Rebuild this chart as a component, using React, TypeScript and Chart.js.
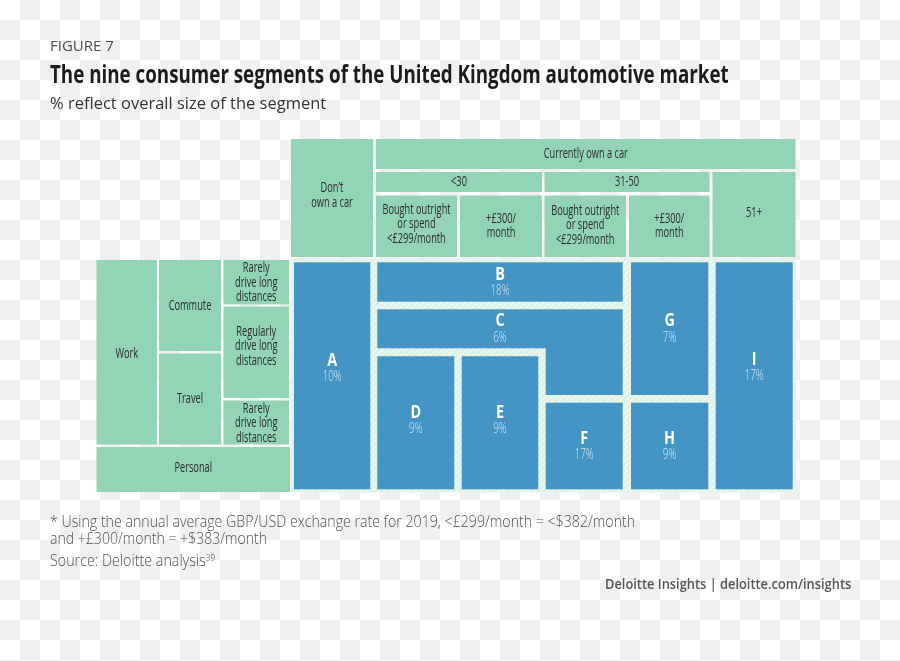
import React, { useEffect, useRef } from "react";
import { Chart, registerables } from "chart.js";

Chart.register(...registerables);

// ---------------- data ----------------
const ownershipLabels = ["Don\u2019t\nown a car", "Currently own a car"];
const ageBandLabels = ["<30", "31-50", "51+"];
const financeLabels = ["Bought outright\nor spend\n<£299/month", "+£300/\nmonth"];
const purposeLabels = ["Work", "Personal"];
const workTypeLabels = ["Commute", "Travel"];
const distanceLabels = [
  "Rarely\ndrive long\ndistances",
  "Regularly\ndrive long\ndistances",
  "Rarely\ndrive long\ndistances",
];
const segmentLetters = ["A", "B", "C", "D", "E", "F", "G", "H", "I"];
const segmentShares = [10, 18, 6, 9, 9, 17, 7, 9, 17];

const figureLabel = "FIGURE 7";
const titleText = "The nine consumer segments of the United Kingdom automotive market";
const subtitleText = "% reflect overall size of the segment";
const noteLines = [
  "* Using the annual average GBP/USD exchange rate for 2019, <£299/month = <$382/month",
  "and +£300/month = +$383/month",
];
const sourceText = "Source: Deloitte analysis";
const sourceRef = "39";
const brandText = "Deloitte Insights | deloitte.com/insights";

// ---------------- layout (axis units) ----------------
type R = [number, number, number, number];
const headerLayout: { label: string; r: R; dy?: number }[] = [
  { label: ownershipLabels[0], r: [291, 139, 373, 257], dy: -2.5 },
  { label: ownershipLabels[1], r: [376, 139, 795.5, 169] },
  { label: ageBandLabels[0], r: [376, 172, 542, 192], dy: 0.5 },
  { label: ageBandLabels[1], r: [544.5, 172, 709.5, 192], dy: 0.5 },
  { label: ageBandLabels[2], r: [712.5, 172, 795.5, 257], dy: -1.5 },
  { label: financeLabels[0], r: [376, 195.5, 457, 257], dy: -2 },
  { label: financeLabels[1], r: [460, 195.5, 542, 257], dy: -0.5 },
  { label: financeLabels[0], r: [544.5, 195.5, 626, 257], dy: -1 },
  { label: financeLabels[1], r: [629, 195.5, 709.5, 257], dy: -0.5 },
];
const sideLayout: { label: string; r: R; dy?: number }[] = [
  { label: purposeLabels[0], r: [96.5, 260, 157, 444.5], dy: 2 },
  { label: workTypeLabels[0], r: [159, 260, 221, 351], dy: 0.5 },
  { label: workTypeLabels[1], r: [159, 353.5, 221, 444.5] },
  { label: distanceLabels[0], r: [223.5, 260, 289, 304.5], dy: 0.5 },
  { label: distanceLabels[1], r: [223.5, 306.5, 289, 398], dy: -6 },
  { label: distanceLabels[2], r: [223.5, 400.5, 289, 444.5], dy: 1 },
  { label: purposeLabels[1], r: [96.5, 447, 290, 492], dy: -1 },
];
const segmentZone: R = [290.5, 258.5, 796, 492.5];
const segmentLayout: { rects: R[]; cx: number; cy: number }[] = [
  { rects: [[294, 262.3, 370.3, 489.3]], cx: 332.2, cy: 369 },
  { rects: [[377.3, 262.3, 622.7, 301.7]], cx: 500, cy: 282.7 },
  { rects: [[377.3, 309.3, 622.7, 348.3], [545.7, 348, 622.7, 395]], cx: 500, cy: 329.3 },
  { rects: [[377.3, 356.3, 454.3, 489.3]], cx: 415.8, cy: 420.7 },
  { rects: [[461.7, 356.3, 538.3, 489.3]], cx: 500, cy: 420.7 },
  { rects: [[545.7, 402.7, 622.7, 489.3]], cx: 584.2, cy: 447 },
  { rects: [[631, 262.3, 708.3, 395]], cx: 669.6, cy: 329.3 },
  { rects: [[631, 402.7, 708.3, 489.3]], cx: 669.6, cy: 447 },
  { rects: [[715.7, 262.3, 792.7, 489.3]], cx: 754.2, cy: 368 },
];

const GREEN = "#93d4b7";
const BLUE = "#4595c4";
const LABEL = "#2a2a2a";

function drawLines(
  ctx: CanvasRenderingContext2D,
  text: string,
  cx: number,
  cy: number,
  font: string,
  color: string,
  sx: number,
  lineH: number
) {
  const lines = text.split("\n");
  const start = cy - ((lines.length - 1) * lineH) / 2;
  lines.forEach((l, i) => {
    ctx.save();
    ctx.translate(cx, start + i * lineH);
    ctx.scale(sx, 1);
    ctx.font = font;
    ctx.fillStyle = color;
    ctx.textAlign = "center";
    ctx.textBaseline = "middle";
    ctx.fillText(l, 0, 0);
    ctx.restore();
  });
}

const mosaicPlugin = {
  id: "mosaic",
  beforeDatasetsDraw(chart: any) {
    const ctx: CanvasRenderingContext2D = chart.ctx;
    const xs = chart.scales.x;
    const ys = chart.scales.y;
    const px = (v: number) => xs.getPixelForValue(v);
    const py = (v: number) => ys.getPixelForValue(v);
    const fillR = (r: R, style: any) => {
      ctx.fillStyle = style;
      ctx.fillRect(px(r[0]), py(r[1]), px(r[2]) - px(r[0]), py(r[3]) - py(r[1]));
    };
    ctx.save();
    // green header & side cells
    [...headerLayout, ...sideLayout].forEach((c) => {
      fillR(c.r, GREEN);
      drawLines(
        ctx,
        c.label,
        (px(c.r[0]) + px(c.r[2])) / 2,
        (py(c.r[1]) + py(c.r[3])) / 2 + (c.dy || 0),
        "400 14px 'Open Sans'",
        LABEL,
        0.66,
        14.4
      );
    });
    // pale hatched zone
    const pc = document.createElement("canvas");
    pc.width = 6;
    pc.height = 6;
    const p = pc.getContext("2d")!;
    p.fillStyle = "#def1e6";
    p.fillRect(0, 0, 6, 6);
    p.strokeStyle = "#f1f9f4";
    p.lineWidth = 1.3;
    p.beginPath();
    p.moveTo(-1, 7);
    p.lineTo(7, -1);
    p.moveTo(-4, 4);
    p.lineTo(4, -4);
    p.moveTo(2, 10);
    p.lineTo(10, 2);
    p.stroke();
    const pattern = ctx.createPattern(pc, "repeat");
    fillR(segmentZone, pattern);
    // blue segments
    segmentLayout.forEach((s, i) => {
      s.rects.forEach((r) => fillR(r, BLUE));
      const cx = px(s.cx);
      const cy = py(s.cy);
      drawLines(ctx, segmentLetters[i], cx, cy - 8.3, "700 18px 'Open Sans'", "#ffffff", 0.8, 0);
      drawLines(ctx, segmentShares[i] + "%", cx, cy + 8.3, "300 14px 'Open Sans'", "#d3e7f3", 0.7, 0);
    });
    ctx.restore();
  },
};

const CHECKER =
  "repeating-conic-gradient(#f0f0f0 0 25%, #ffffff 0 50%) 0 0 / 40px 40px";

function Cond({
  text,
  width,
  style,
  children,
}: {
  text: string;
  width: number;
  style: React.CSSProperties;
  children?: React.ReactNode;
}) {
  return (
    <div
      data-target={width}
      style={{
        position: "absolute",
        whiteSpace: "nowrap",
        transformOrigin: "0 0",
        display: "inline-block",
        ...style,
      }}
    >
      {text}
      {children}
    </div>
  );
}

export default function App() {
  const canvasRef = useRef<HTMLCanvasElement>(null);
  const wrapRef = useRef<HTMLDivElement>(null);

  useEffect(() => {
    const wrap = wrapRef.current!;
    wrap.querySelectorAll<HTMLElement>("[data-target]").forEach((el) => {
      const t = parseFloat(el.dataset.target || "0");
      const w = el.offsetWidth;
      if (t > 0 && w > 0) el.style.transform = `scaleX(${t / w})`;
    });
    const centers = segmentLayout.map((s) => ({ x: s.cx, y: s.cy }));
    const chart = new Chart(canvasRef.current!, {
      type: "scatter",
      data: {
        datasets: [
          {
            label: "segments",
            data: centers,
            pointRadius: 0,
            pointHoverRadius: 0,
          },
        ],
      },
      options: {
        responsive: false,
        animation: false,
        events: [],
        layout: { padding: 0 },
        plugins: { legend: { display: false }, tooltip: { enabled: false } },
        scales: {
          x: { type: "linear", min: 0, max: 900, display: false },
          y: { type: "linear", min: 0, max: 661, reverse: true, display: false },
        },
      },
      plugins: [mosaicPlugin],
    });
    return () => chart.destroy();
  }, []);

  const fs = (size: number, baseline: number) => ({
    fontSize: size,
    lineHeight: `${size}px`,
    top: baseline - 0.888 * size,
  });

  return (
    <div
      ref={wrapRef}
      style={{
        position: "fixed",
        left: 0,
        top: 0,
        width: 900,
        height: 661,
        overflow: "hidden",
        background: CHECKER,
        fontFamily: "'Open Sans', sans-serif",
      }}
    >
      <canvas
        ref={canvasRef}
        width={900}
        height={661}
        style={{ position: "absolute", left: 0, top: 0, width: 900, height: 661 }}
      />
      <div
        style={{
          position: "absolute",
          left: 50,
          whiteSpace: "nowrap",
          color: "#4d4d4d",
          ...fs(15, 51.7),
        }}
      >
        {figureLabel}
      </div>
      <Cond
        text={titleText}
        width={679}
        style={{ left: 50, fontWeight: 700, color: "#1c1c1c", ...fs(24.5, 83.3) }}
      />
      <div
        style={{
          position: "absolute",
          left: 50,
          whiteSpace: "nowrap",
          color: "#333333",
          ...fs(16.5, 110),
        }}
      >
        {subtitleText}
      </div>
      <Cond
        text={noteLines[0]}
        width={585}
        style={{ left: 50, fontWeight: 300, color: "#505050", ...fs(15.5, 528) }}
      />
      <Cond
        text={noteLines[1]}
        width={217}
        style={{ left: 50, fontWeight: 300, color: "#505050", ...fs(15.5, 545) }}
      />
      <Cond
        text={sourceText}
        width={165}
        style={{ left: 50, fontWeight: 300, color: "#505050", ...fs(15.5, 567) }}
      >
        <sup style={{ fontSize: 9, lineHeight: 0, verticalAlign: "5px" }}>{sourceRef}</sup>
      </Cond>
      <Cond
        text={brandText}
        width={246}
        style={{ left: 605, fontWeight: 600, color: "#555555", ...fs(14, 589) }}
      />
    </div>
  );
}
